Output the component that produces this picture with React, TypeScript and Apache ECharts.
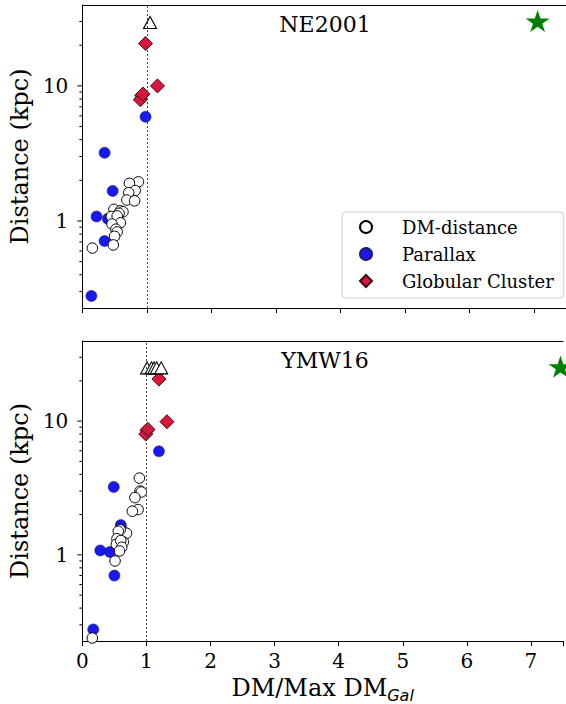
import React, { useEffect, useRef } from "react";
import * as echarts from "echarts";

// ---------- axis setup ----------
const X_TICKS = [0, 1, 2, 3, 4, 5, 6, 7];
const X_MAX = 7.5;
const Y_MIN = 0.227;
const Y_MAX = 39.7;
const Y_MAJOR = [1, 10];
const Y_MAJOR_LABELS = ["1", "10"];
const Y_MINOR = [0.3, 0.4, 0.5, 0.6, 0.7, 0.8, 0.9, 2, 3, 4, 5, 6, 7, 8, 9, 20, 30];
const REF_LINE_X = 1;

const PANEL_TITLES = ["NE2001", "YMW16"];
const LEGEND_NAMES = ["DM-distance", "Parallax", "Globular Cluster"];

// ---------- NE2001 panel ----------
const NE_DM_DISTANCE: [number, number][] = [
  [0.87, 1.95], [0.73, 1.9], [0.82, 1.68], [0.72, 1.62], [0.69, 1.43], [0.81, 1.41],
  [0.49, 1.22], [0.59, 1.19], [0.63, 1.17], [0.57, 1.14], [0.45, 1.08], [0.54, 1.09],
  [0.59, 0.97], [0.46, 0.95], [0.52, 0.87], [0.54, 0.83], [0.5, 0.77], [0.48, 0.665],
  [0.155, 0.63],
];
const NE_PARALLAX: [number, number][] = [
  [0.98, 5.9], [0.345, 3.2], [0.47, 1.67], [0.22, 1.08], [0.395, 1.04], [0.345, 0.71], [0.14, 0.279],
];
const NE_GLOBULAR: [number, number][] = [
  [0.98, 20.6], [1.165, 10.0], [0.92, 8.5], [0.9, 7.9], [0.94, 8.7],
];
const NE_LIMITS: [number, number][] = [[1.05, 29.5]];
const NE_STAR: [number, number][] = [[7.06, 30.2]];

// ---------- YMW16 panel ----------
const YMW_DM_DISTANCE: [number, number][] = [
  [0.89, 3.75], [0.9, 3.0], [0.92, 2.95], [0.82, 2.68], [0.87, 2.18], [0.78, 2.12],
  [0.69, 1.45], [0.59, 1.54], [0.56, 1.5], [0.54, 1.32], [0.64, 1.25], [0.53, 1.2],
  [0.6, 1.28], [0.615, 1.14], [0.58, 1.07], [0.51, 0.9], [0.155, 0.239],
];
const YMW_PARALLAX: [number, number][] = [
  [1.195, 5.94], [0.49, 3.22], [0.6, 1.67], [0.6, 1.6], [0.28, 1.08], [0.43, 1.05], [0.5, 0.7], [0.17, 0.277],
];
const YMW_GLOBULAR: [number, number][] = [
  [1.195, 20.6], [1.32, 9.9], [1.01, 8.5], [0.99, 8.0], [1.02, 8.7],
];
const YMW_LIMITS: [number, number][] = [[1.01, 25], [1.08, 25], [1.12, 25], [1.16, 25], [1.23, 25]];
const YMW_STAR: [number, number][] = [[7.46, 25.5]];

const STAR_PATH =
  "path://M50,0L61.23,34.55L97.55,34.55L68.17,55.9L79.39,90.45L50,69.1L20.61,90.45L31.83,55.9L2.45,34.55L38.77,34.55Z";

const SERIF = "DejaVu Serif";
const SANS = "DejaVu Sans";

function panelSeries(
  gi: number,
  dmDist: [number, number][],
  parallax: [number, number][],
  globular: [number, number][],
  limits: [number, number][],
  star: [number, number][]
) {
  const ax = { xAxisIndex: gi * 2, yAxisIndex: gi };
  const ticks = [
    ...Y_MAJOR.map((v) => [0, v, 1]),
    ...Y_MINOR.map((v) => [0, v, 0]),
  ];
  return [
    {
      type: "scatter", name: "Parallax", ...ax, data: parallax,
      symbol: "circle", symbolSize: 11, symbolKeepAspect: true,
      itemStyle: { color: "#1818f2", borderColor: "#20205a", borderWidth: 0.6, opacity: 1 },
    },
    {
      type: "scatter", name: "DM-distance", ...ax, data: dmDist,
      symbol: "circle", symbolSize: 10.5, symbolKeepAspect: true,
      itemStyle: { color: "#ffffff", borderColor: "#000000", borderWidth: 1, opacity: 1 },
    },
    {
      type: "scatter", name: "Globular Cluster", ...ax, data: globular,
      symbol: "diamond", symbolSize: 14, symbolKeepAspect: true,
      itemStyle: { color: "#dc143c", borderColor: "#3a0a12", borderWidth: 1, opacity: 1 },
    },
    {
      type: "scatter", name: "limits", ...ax, data: limits,
      symbol: "triangle", symbolSize: [13, 12],
      itemStyle: { color: "#ffffff", borderColor: "#000000", borderWidth: 1.1, opacity: 1 },
    },
    {
      type: "scatter", name: "star", ...ax, data: star,
      symbol: STAR_PATH, symbolSize: [24, 23], symbolKeepAspect: true,
      itemStyle: { color: "#008000", opacity: 1 },
      markLine: {
        silent: true,
        symbol: ["none", "none"],
        label: { show: false },
        lineStyle: { color: "#444444", type: [2, 2], width: 1 },
        data: [{ xAxis: REF_LINE_X }],
      },
    },
    {
      type: "custom", name: "yticks", ...ax, data: ticks, silent: true, clip: false, z: 10,
      renderItem: (_p: any, api: any) => {
        const p = api.coord([api.value(0), api.value(1)]);
        const len = api.value(2) ? 5 : 3;
        return {
          type: "line",
          shape: { x1: p[0] - len, y1: p[1], x2: p[0], y2: p[1] },
          style: { stroke: "#000000", lineWidth: 1 },
        };
      },
    },
  ];
}

function xAxes(gi: number, showLabels: boolean) {
  const base = {
    gridIndex: gi, type: "value", min: X_TICKS[0], max: X_MAX,
    interval: X_TICKS[1] - X_TICKS[0], splitLine: { show: false },
    axisLine: { show: true, onZero: false, lineStyle: { color: "#000000", width: 1 } },
  };
  return [
    {
      ...base, position: "bottom",
      axisTick: { show: true, length: 5, lineStyle: { color: "#000000", width: 1 } },
      axisLabel: {
        show: showLabels, fontFamily: SERIF, fontSize: 20, color: "#000000", margin: 10,
        formatter: (v: number) => (X_TICKS.includes(v) ? String(v) : ""),
      },
      ...(showLabels
        ? {
            name: "{a|DM/Max DM}{b|Gal}",
            nameLocation: "middle",
            nameGap: 32,
            nameTextStyle: {
              rich: {
                a: { fontFamily: SERIF, fontSize: 24, lineHeight: 30, color: "#000000", verticalAlign: "middle" },
                b: { fontFamily: SANS, fontStyle: "italic", fontSize: 16, lineHeight: 16, color: "#000000", verticalAlign: "bottom" },
              },
            },
          }
        : {}),
    },
    {
      ...base, position: "top",
      axisTick: { show: false }, axisLabel: { show: false },
    },
  ];
}

function yAxis(gi: number) {
  return {
    gridIndex: gi, type: "log", logBase: 10, min: Y_MIN, max: Y_MAX, position: "left",
    splitLine: { show: false },
    axisLine: { show: true, onZero: false, lineStyle: { color: "#000000", width: 1 } },
    axisTick: { show: false },
    axisLabel: {
      fontFamily: SERIF, fontSize: 20, color: "#000000", margin: 14,
      formatter: (v: number) => {
        const i = Y_MAJOR.findIndex((m) => Math.abs(v - m) / m < 1e-6);
        return i >= 0 ? Y_MAJOR_LABELS[i] : "";
      },
    },
    name: "Distance (kpc)",
    nameLocation: "middle",
    nameRotate: 90,
    nameGap: 43,
    nameTextStyle: { fontFamily: SERIF, fontSize: 24, color: "#000000" },
  };
}

export default function App() {
  const ref = useRef<HTMLDivElement>(null);
  useEffect(() => {
    document.body.style.margin = "0";
    const chart = echarts.init(ref.current as HTMLDivElement, null, { renderer: "svg" });
    const option: any = {
      animation: false,
      backgroundColor: "#ffffff",
      grid: [
        { left: 78, right: 0, top: 5, height: 303 },
        { left: 78, right: 0, top: 341, height: 303 },
      ],
      xAxis: [...xAxes(0, false), ...xAxes(1, true)],
      yAxis: [yAxis(0), yAxis(1)],
      legend: {
        data: LEGEND_NAMES,
        orient: "vertical",
        left: 342,
        top: 212,
        itemWidth: 12,
        itemHeight: 12,
        itemGap: 9,
        padding: [6, 10, 8, 17],
        backgroundColor: "rgba(255,255,255,0.8)",
        borderColor: "#cccccc",
        borderWidth: 1,
        borderRadius: 4,
        selectedMode: false,
        textStyle: { fontFamily: SERIF, fontSize: 18, lineHeight: 18, color: "#000000", padding: [0, 0, 0, 25] },
      },
      graphic: [
        {
          type: "text", x: 325, y: 24.4, silent: true,
          style: { text: PANEL_TITLES[0], font: `22px '${SERIF}'`, fill: "#000000", textAlign: "center", textVerticalAlign: "middle" },
        },
        {
          type: "text", x: 325, y: 360.4, silent: true,
          style: { text: PANEL_TITLES[1], font: `22px '${SERIF}'`, fill: "#000000", textAlign: "center", textVerticalAlign: "middle" },
        },
      ],
      series: [
        ...panelSeries(0, NE_DM_DISTANCE, NE_PARALLAX, NE_GLOBULAR, NE_LIMITS, NE_STAR),
        ...panelSeries(1, YMW_DM_DISTANCE, YMW_PARALLAX, YMW_GLOBULAR, YMW_LIMITS, YMW_STAR),
      ],
    };
    chart.setOption(option);
    return () => chart.dispose();
  }, []);
  return <div ref={ref} style={{ width: 566, height: 704 }} />;
}
